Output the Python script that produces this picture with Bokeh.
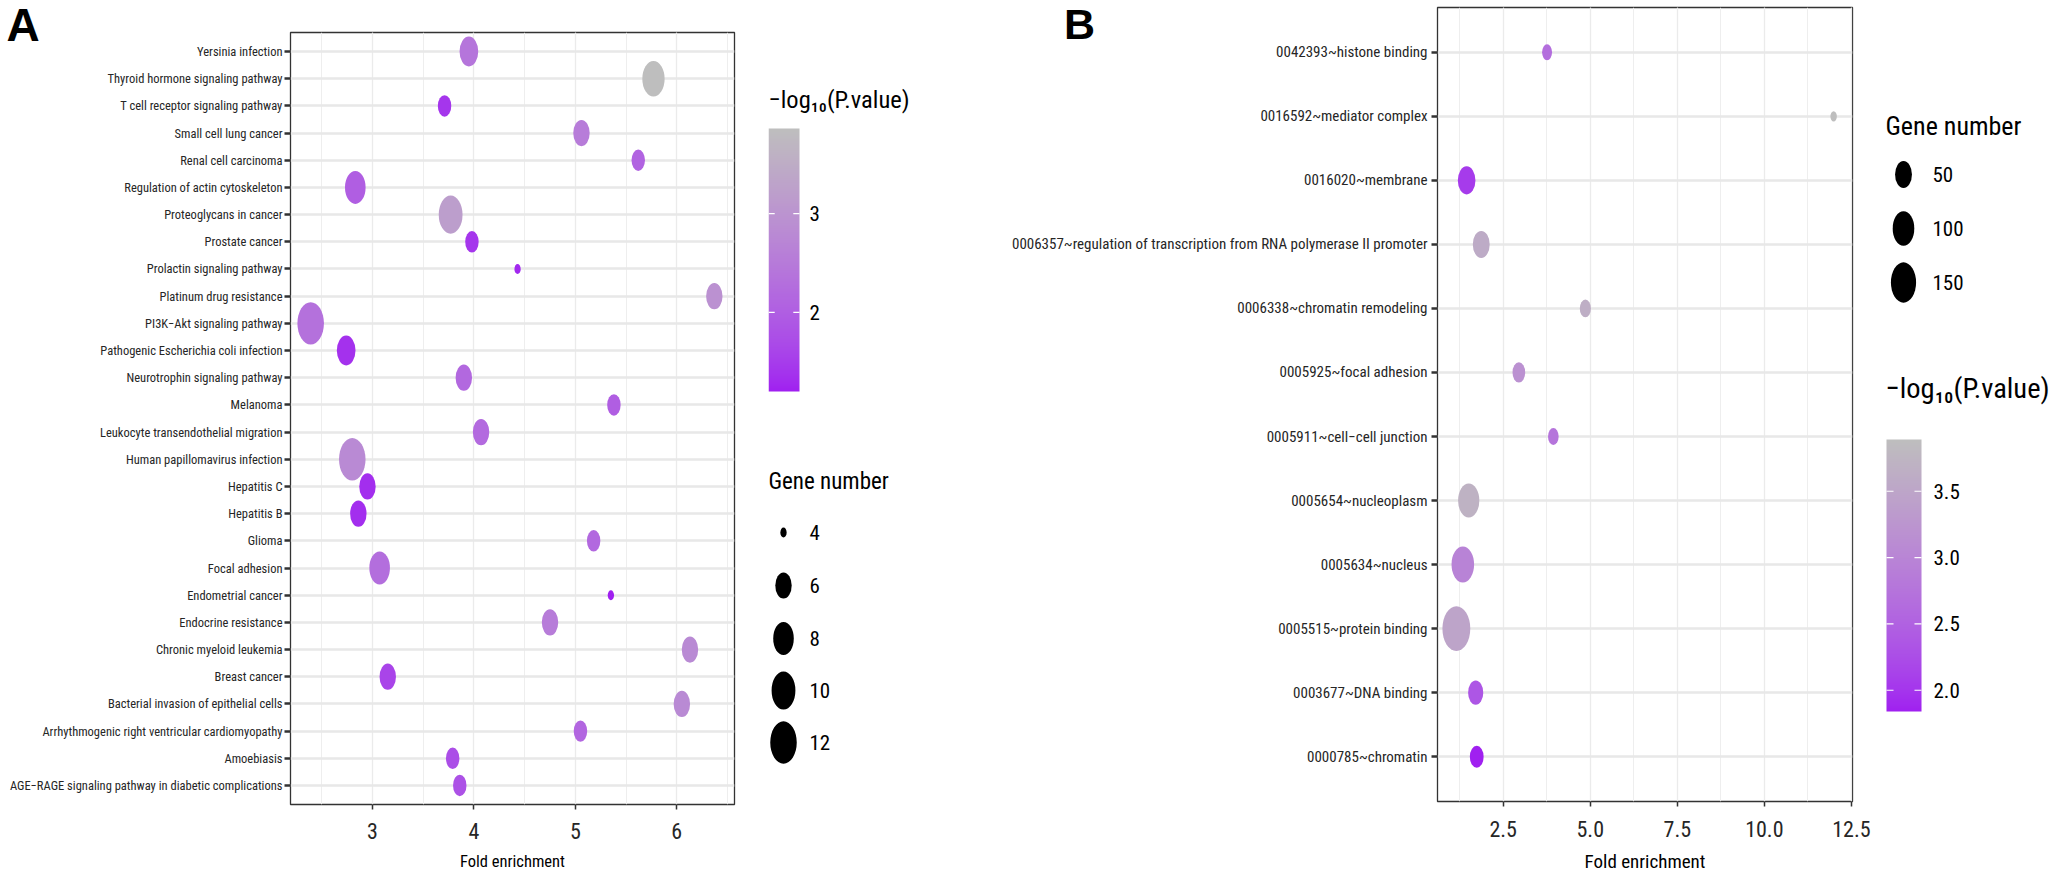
import numpy as np
from bokeh.plotting import figure
from bokeh.models import (ColumnDataSource, Range1d, FactorRange, LinearColorMapper,
                          SingleIntervalTicker, NumeralTickFormatter, Label)
from bokeh.layouts import row
from bokeh.embed import file_html
from bokeh.resources import INLINE
from bokeh.core.properties import value

# ---------------- data: panel A (KEGG) ----------------
terms_a = ["Yersinia infection", "Thyroid hormone signaling pathway",
           "T cell receptor signaling pathway", "Small cell lung cancer",
           "Renal cell carcinoma", "Regulation of actin cytoskeleton",
           "Proteoglycans in cancer", "Prostate cancer", "Prolactin signaling pathway",
           "Platinum drug resistance", "PI3K\u2212Akt signaling pathway",
           "Pathogenic Escherichia coli infection", "Neurotrophin signaling pathway",
           "Melanoma", "Leukocyte transendothelial migration",
           "Human papillomavirus infection", "Hepatitis C", "Hepatitis B", "Glioma",
           "Focal adhesion", "Endometrial cancer", "Endocrine resistance",
           "Chronic myeloid leukemia", "Breast cancer",
           "Bacterial invasion of epithelial cells",
           "Arrhythmogenic right ventricular cardiomyopathy", "Amoebiasis",
           "AGE\u2212RAGE signaling pathway in diabetic complications"]
fold_a = [3.95, 5.77, 3.71, 5.06, 5.62, 2.83, 3.77, 3.98, 4.43, 6.37, 2.39, 2.74, 3.90,
          5.38, 4.07, 2.80, 2.95, 2.86, 5.18, 3.07, 5.35, 4.75, 6.13, 3.15, 6.05, 5.05,
          3.79, 3.86]
genes_a = [7, 9, 5, 6, 5, 8, 10, 5, 4, 6, 12, 7, 6, 5, 6, 12, 6, 6, 5, 8, 4, 6, 6, 6, 6,
           5, 5, 5]
logp_a = [2.40, 3.86, 1.41, 2.53, 2.08, 2.00, 3.20, 1.41, 1.28, 2.93, 2.32, 1.36, 2.16,
          2.00, 2.20, 2.80, 1.33, 1.33, 2.16, 2.26, 1.20, 2.53, 2.80, 1.60, 2.80, 2.13,
          1.73, 1.79]

# ---------------- data: panel B (GO) ----------------
terms_b = ["0042393~histone binding", "0016592~mediator complex", "0016020~membrane",
           "0006357~regulation of transcription from RNA polymerase II promoter",
           "0006338~chromatin remodeling", "0005925~focal adhesion",
           "0005911~cell\u2212cell junction", "0005654~nucleoplasm", "0005634~nucleus",
           "0005515~protein binding", "0003677~DNA binding", "0000785~chromatin"]
fold_b = [3.76, 11.99, 1.45, 1.87, 4.86, 2.95, 3.94, 1.51, 1.34, 1.155, 1.71, 1.74]
genes_b = [10, 5, 56, 50, 14, 21, 12, 95, 112, 195, 36, 27]
logp_b = [2.66, 3.89, 2.05, 3.58, 3.64, 3.17, 2.76, 3.69, 2.97, 3.48, 2.35, 1.84]

# legend breaks
size_breaks_a = [4, 6, 8, 10, 12]
color_ticks_a = [2, 3]
size_breaks_b = [50, 100, 150]
color_ticks_b = [2.0, 2.5, 3.0, 3.5]

NARROW = "'Roboto Condensed', 'DejaVu Sans Condensed', sans-serif"
BOLD = "'Liberation Sans', Arial, sans-serif"
H = 879

# ---------------- colour scale: purple -> grey interpolated in CIELAB ----------------
_M = np.array([[0.4124564, 0.3575761, 0.1804375],
               [0.2126729, 0.7151522, 0.0721750],
               [0.0193339, 0.1191920, 0.9503041]])
_WP = np.array([0.95047, 1.0, 1.08883])


def _to_lab(hx):
    c = np.array([int(hx[i:i + 2], 16) for i in (1, 3, 5)]) / 255.0
    lin = np.where(c <= 0.04045, c / 12.92, ((c + 0.055) / 1.055) ** 2.4)
    t = (_M @ lin) / _WP
    f = np.where(t > (6 / 29) ** 3, np.cbrt(t), t / (3 * (6 / 29) ** 2) + 4 / 29)
    return np.array([116 * f[1] - 16, 500 * (f[0] - f[1]), 200 * (f[1] - f[2])])


def _to_hex(lab):
    L, a, b = lab
    fy = (L + 16) / 116
    f = np.array([fy + a / 500, fy, fy - b / 200])
    t = np.where(f > 6 / 29, f ** 3, 3 * (6 / 29) ** 2 * (f - 4 / 29))
    lin = np.clip(np.linalg.inv(_M) @ (t * _WP), 0, 1)
    c = np.where(lin <= 0.0031308, 12.92 * lin, 1.055 * lin ** (1 / 2.4) - 0.055)
    return "#%02x%02x%02x" % tuple(int(round(v * 255)) for v in np.clip(c, 0, 1))


_lo, _hi = _to_lab("#A020F0"), _to_lab("#BEBEBE")
palette = [_to_hex(_lo + (_hi - _lo) * t) for t in np.linspace(0, 1, 256)]

mapper_a = LinearColorMapper(palette=palette, low=min(logp_a), high=max(logp_a))
mapper_b = LinearColorMapper(palette=palette, low=min(logp_b), high=max(logp_b))

ASPECT = 1.6
LETTER_SHIFT = 14  # empirical offset of side-panel labels


def size_a(g):
    return 6.3 + 7.15 * np.sqrt(np.maximum(np.asarray(g, float) - 4, 0))


def size_b(g):
    return 6.5 + 1.55 * np.sqrt(np.maximum(np.asarray(g, float) - 5, 0))


def expand(vals, frac=0.05):
    lo, hi = min(vals), max(vals)
    d = (hi - lo) * frac
    return lo - d, hi + d


def no_align(p):
    try:
        p.frame_align = False
    except Exception:
        pass


def panel(terms, fold, genes, logp, mapper, sizefn, W, bl, br, bt, bb, interval, fmt,
          ylab_size, xlab_size, title_size, ystandoff, xstandoff, title_standoff,
          letter, letter_size, letter_x, letter_top):
    w = sizefn(genes)
    src = ColumnDataSource(dict(term=terms, fold=fold, genes=genes, logp=logp,
                                w=list(w), h=list(w * ASPECT)))
    p = figure(width=W, height=H, x_range=Range1d(*expand(fold)),
               y_range=FactorRange(factors=terms[::-1], range_padding=0.2,
                                   range_padding_units="absolute"),
               output_backend="svg", toolbar_location=None, title=None,
               min_border_left=bl, min_border_right=br, min_border_top=bt,
               min_border_bottom=bb)
    no_align(p)
    p.background_fill_color = "white"
    p.border_fill_color = "white"
    p.outline_line_color = "#333333"
    p.outline_line_width = 1.3

    tk = SingleIntervalTicker(interval=interval, num_minor_ticks=2)
    p.xaxis.ticker = tk
    p.xgrid.ticker = tk
    p.xaxis.formatter = NumeralTickFormatter(format=fmt)
    p.xgrid.grid_line_color = "#EBEBEB"
    p.xgrid.grid_line_width = 1.3
    p.xgrid.minor_grid_line_color = "#EEEEEE"
    p.xgrid.minor_grid_line_width = 1.0
    p.ygrid.grid_line_color = "#E8E8E8"
    p.ygrid.grid_line_width = 2.7

    for ax in (p.xaxis, p.yaxis):
        ax.axis_line_color = None
        ax.minor_tick_line_color = None
        ax.major_tick_in = 0
        ax.major_tick_line_color = "#333333"
        ax.major_label_text_font = NARROW
        ax.major_label_text_color = "#262626"
    p.yaxis.major_tick_out = 6
    p.yaxis.major_tick_line_width = 2.6
    p.yaxis.major_label_standoff = ystandoff
    p.yaxis.major_label_text_font_size = ylab_size
    p.xaxis.major_tick_out = 5
    p.xaxis.major_tick_line_width = 1.5
    p.xaxis.major_label_standoff = xstandoff
    p.xaxis.major_label_text_font_size = xlab_size
    p.xaxis.axis_label = "Fold enrichment"
    p.xaxis.axis_label_text_font = NARROW
    p.xaxis.axis_label_text_font_style = "normal"
    p.xaxis.axis_label_text_font_size = title_size
    p.xaxis.axis_label_text_color = "black"
    p.xaxis.axis_label_standoff = title_standoff

    p.ellipse(x="fold", y="term", width="w", height="h", width_units="screen",
              height_units="screen", source=src,
              fill_color={"field": "logp", "transform": mapper}, line_color=None)

    # panel letter, held in the right side panel so it is not clipped to the frame
    frame_right = W - br
    frame_bottom = H - bb
    baseline = letter_top - LETTER_SHIFT + 0.716 * letter_size
    p.add_layout(Label(x=letter_x - frame_right, y=frame_bottom - baseline,
                       x_units="screen", y_units="screen", text=letter, text_font=BOLD,
                       text_font_size="%dpx" % letter_size, text_font_style="bold",
                       text_baseline="alphabetic", text_align="left",
                       text_color="black"), "right")
    return p


def legend_fig(W):
    q = figure(width=W, height=H, x_range=Range1d(0, W), y_range=Range1d(0, H),
               output_backend="svg", toolbar_location=None, title=None,
               min_border_left=0, min_border_right=0, min_border_top=0,
               min_border_bottom=0, x_axis_type=None, y_axis_type=None)
    no_align(q)
    q.outline_line_color = None
    q.background_fill_color = "white"
    q.border_fill_color = "white"
    return q


def add_text(q, xs, ys, texts, size, baseline="alphabetic"):
    q.text(x=xs, y=ys, text=texts, text_font=value(NARROW),
           text_font_size=value(size), text_baseline=baseline, text_align="left",
           text_color="black")


def colorbar(q, mapper, x, top, w, h, ticks, labels, label_x, size):
    bottom = H - top - h
    q.image(image=[np.linspace(mapper.low, mapper.high, 256).reshape(256, 1)],
            x=x, y=bottom, dw=w, dh=h, color_mapper=mapper)
    ty = [bottom + (t - mapper.low) / (mapper.high - mapper.low) * h for t in ticks]
    tl = w / 5.0
    q.segment(x0=[x] * len(ty) + [x + w - tl] * len(ty), y0=ty + ty,
              x1=[x + tl] * len(ty) + [x + w] * len(ty), y1=ty + ty,
              line_color="white", line_width=1.2)
    add_text(q, [label_x] * len(ty), ty, labels, size, baseline="middle")


def size_legend(q, breaks, sizefn, x, ys, label_x, size):
    w = sizefn(breaks)
    yy = [H - y for y in ys]
    q.ellipse(x=[x] * len(breaks), y=yy, width=list(w), height=list(w * ASPECT),
              fill_color="black", line_color=None)
    add_text(q, [label_x] * len(breaks), yy, [str(b) for b in breaks], size,
             baseline="middle")


# ---------------- panel A ----------------
WA = 290 + 444 + 34
pA = panel(terms_a, fold_a, genes_a, logp_a, mapper_a, size_a, W=WA, bl=290, br=34,
           bt=32, bb=H - 804, interval=1, fmt="0", ylab_size="12.5px",
           xlab_size="22px", title_size="16.5px", ystandoff=2, xstandoff=13,
           title_standoff=10, letter="A", letter_size=46, letter_x=6, letter_top=6)

WLA = 1000 - WA
legA = legend_fig(WLA)
ox = WA
add_text(legA, [768 - ox], [H - 99], ["\u2212log\u2081\u2080(P.value)"], "24.5px")
colorbar(legA, mapper_a, x=768 - ox, top=128, w=31, h=263, ticks=color_ticks_a,
         labels=[str(t) for t in color_ticks_a], label_x=809 - ox, size="21px")
add_text(legA, [768 - ox], [H - 481], ["Gene number"], "23px")
size_legend(legA, size_breaks_a, size_a, x=783 - ox, ys=[532, 585, 638, 690, 742],
            label_x=809 - ox, size="21px")

# ---------------- panel B ----------------
WB = 437 + 415 + 32
pB = panel(terms_b, fold_b, genes_b, logp_b, mapper_b, size_b, W=WB, bl=437, br=32,
           bt=7, bb=H - 801, interval=2.5, fmt="0.0", ylab_size="15px",
           xlab_size="22px", title_size="19px", ystandoff=4, xstandoff=14,
           title_standoff=10, letter="B", letter_size=43, letter_x=63.5, letter_top=7)

WLB = 2050 - 1000 - WB
legB = legend_fig(WLB)
ox = 1000 + WB
add_text(legB, [1885 - ox], [H - 125], ["Gene number"], "26px")
size_legend(legB, size_breaks_b, size_b, x=1903 - ox, ys=[174, 228, 282],
            label_x=1932 - ox, size="21px")
add_text(legB, [1885 - ox], [H - 388], ["\u2212log\u2081\u2080(P.value)"], "28.5px")
colorbar(legB, mapper_b, x=1886 - ox, top=439, w=35, h=272, ticks=color_ticks_b,
         labels=["%.1f" % t for t in color_ticks_b], label_x=1933 - ox, size="21px")

layout = row(pA, legA, pB, legB)
open("out.html", "w").write(file_html(layout, INLINE))
